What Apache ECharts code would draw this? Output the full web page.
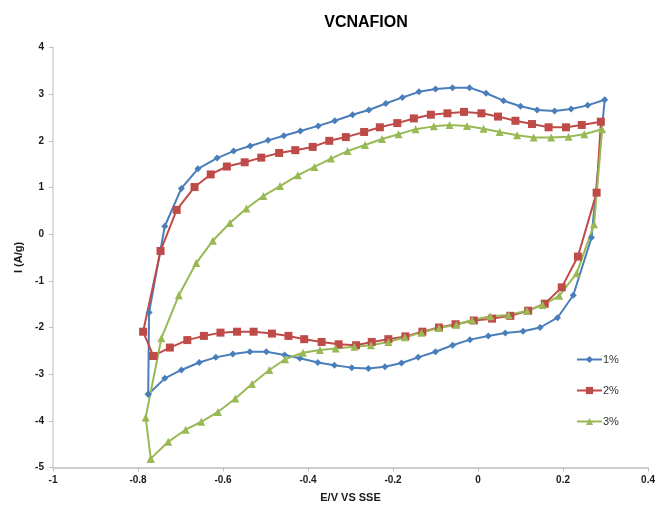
<!DOCTYPE html>
<html>
<head>
<meta charset="utf-8">
<script src="https://cdn.jsdelivr.net/npm/echarts@6/dist/echarts.min.js"></script>
<style>
html,body{margin:0;padding:0;background:#fff;}
#chart{width:658px;height:509px;}
</style>
</head>
<body>
<div id="chart"></div>
<script>
var titleText = "VCNAFION";
var xName = "E/V VS SSE";
var yName = "I (A/g)";
var seriesNames = ["1%", "2%", "3%"];

var blueE = [-0.776,-0.774,-0.737,-0.698,-0.659,-0.614,-0.575,-0.536,-0.494,-0.457,-0.418,-0.376,-0.337,-0.295,-0.257,-0.217,-0.178,-0.139,-0.100,-0.060,-0.020,0.019,0.060,0.100,0.139,0.180,0.219,0.258,0.298,
  0.267,0.224,0.187,0.146,0.106,0.064,0.024,-0.019,-0.060,-0.100,-0.141,-0.180,-0.219,-0.258,-0.297,-0.338,-0.377,-0.419,-0.455,-0.498,-0.537,-0.577,-0.617,-0.656,-0.698,-0.737,-0.776];
var blueI = [-3.43,-1.68,0.17,0.98,1.40,1.63,1.78,1.89,2.01,2.11,2.21,2.32,2.43,2.56,2.66,2.80,2.93,3.05,3.11,3.14,3.14,3.02,2.86,2.74,2.66,2.64,2.68,2.76,2.88,
  -0.07,-1.31,-1.79,-2.00,-2.08,-2.12,-2.18,-2.26,-2.38,-2.52,-2.64,-2.76,-2.84,-2.88,-2.86,-2.81,-2.75,-2.66,-2.59,-2.52,-2.52,-2.57,-2.64,-2.75,-2.91,-3.09,-3.43];

var redE = [-0.764,-0.788,-0.747,-0.709,-0.667,-0.629,-0.591,-0.549,-0.510,-0.468,-0.430,-0.389,-0.350,-0.311,-0.268,-0.231,-0.190,-0.151,-0.111,-0.072,-0.033,0.008,0.047,0.088,0.127,0.166,0.207,0.244,0.289,
  0.279,0.235,0.197,0.157,0.118,0.076,0.033,-0.010,-0.053,-0.092,-0.131,-0.171,-0.211,-0.250,-0.287,-0.328,-0.368,-0.409,-0.446,-0.485,-0.528,-0.567,-0.606,-0.645,-0.684,-0.725,-0.764];
var redI = [-2.61,-2.09,-0.36,0.52,1.01,1.28,1.45,1.54,1.64,1.74,1.80,1.87,2.00,2.08,2.19,2.29,2.38,2.48,2.56,2.59,2.62,2.59,2.52,2.43,2.36,2.29,2.29,2.34,2.41,
  0.89,-0.48,-1.14,-1.49,-1.64,-1.75,-1.81,-1.85,-1.93,-2.00,-2.09,-2.19,-2.25,-2.31,-2.38,-2.36,-2.31,-2.25,-2.18,-2.13,-2.09,-2.09,-2.11,-2.18,-2.27,-2.43,-2.61];

var greenE = [-0.770,-0.782,-0.745,-0.704,-0.663,-0.624,-0.584,-0.545,-0.505,-0.466,-0.424,-0.385,-0.346,-0.307,-0.266,-0.226,-0.187,-0.147,-0.104,-0.067,-0.026,0.013,0.051,0.092,0.131,0.172,0.213,0.250,0.292,
  0.273,0.232,0.191,0.152,0.115,0.072,0.029,-0.014,-0.051,-0.092,-0.133,-0.172,-0.211,-0.252,-0.291,-0.335,-0.372,-0.412,-0.454,-0.491,-0.532,-0.571,-0.612,-0.651,-0.688,-0.729,-0.770];
var greenI = [-4.81,-3.93,-2.23,-1.31,-0.62,-0.14,0.24,0.55,0.82,1.03,1.26,1.44,1.62,1.78,1.91,2.04,2.14,2.25,2.31,2.34,2.32,2.26,2.19,2.12,2.07,2.07,2.09,2.14,2.25,
  0.21,-0.84,-1.32,-1.52,-1.64,-1.73,-1.76,-1.84,-1.94,-2.01,-2.11,-2.21,-2.31,-2.38,-2.41,-2.45,-2.48,-2.54,-2.68,-2.91,-3.21,-3.52,-3.81,-4.02,-4.19,-4.45,-4.81];

function pairs(xs, ys){ var out=[]; for(var i=0;i<xs.length;i++){ out.push([xs[i], ys[i]]); } return out; }

var colors = ["#4A7EBB", "#BE4B48", "#98B954"];
var symbols = ["diamond", "rect", "triangle"];
var symbolSizes = [7, 8, 8];
var datasets = [pairs(blueE, blueI), pairs(redE, redI), pairs(greenE, greenI)];

var chart = echarts.init(document.getElementById('chart'), null, {renderer:'canvas'});
var labelFont = {fontFamily:'Liberation Sans', fontSize:10, fontWeight:'bold', color:'#1a1a1a'};

var option = {
  animation:false,
  backgroundColor:'#ffffff',
  title:{ text:titleText, left:361, top:10, textAlign:'center',
    textStyle:{fontFamily:'Liberation Sans', fontSize:16, fontWeight:'bold', color:'#000'} },
  grid:{ left:53, right:8, top:47.5, bottom:41.5, containLabel:false },
  legend:{ orient:'vertical', left:571, top:349, itemGap:20, itemWidth:25, itemHeight:9,
    data:seriesNames,
    textStyle:{fontFamily:'Liberation Sans', fontSize:11, color:'#333', padding:[0,0,0,-4]} },
  xAxis:{ type:'value', min:-1, max:0.4, interval:0.2,
    name:xName, nameLocation:'middle', nameGap:25,
    nameTextStyle:{fontFamily:'Liberation Sans', fontSize:11, fontWeight:'bold', color:'#1a1a1a'},
    axisLine:{show:true, onZero:false, lineStyle:{color:'#BFBFBF', width:1.5}},
    axisTick:{show:true, inside:false, length:4, lineStyle:{color:'#BFBFBF'}},
    splitLine:{show:false},
    axisLabel:Object.assign({margin:8}, labelFont) },
  yAxis:{ type:'value', min:-5, max:4, interval:1,
    name:yName, nameLocation:'middle', nameGap:26, nameRotate:90,
    nameTextStyle:{fontFamily:'Liberation Sans', fontSize:11, fontWeight:'bold', color:'#1a1a1a'},
    axisLine:{show:true, onZero:false, lineStyle:{color:'#D0D0D0', width:1.5}},
    axisTick:{show:true, inside:false, length:4, lineStyle:{color:'#BFBFBF'}},
    splitLine:{show:false},
    axisLabel:Object.assign({margin:9}, labelFont) },
  series: seriesNames.map(function(n, k){
    return { name:n, type:'line', data:datasets[k], smooth:false,
      symbol:symbols[k], symbolSize:symbolSizes[k], showSymbol:true,
      lineStyle:{color:colors[k], width:2},
      itemStyle:{color:colors[k]},
      emphasis:{disabled:true} };
  })
};
chart.setOption(option);
</script>
</body>
</html>
